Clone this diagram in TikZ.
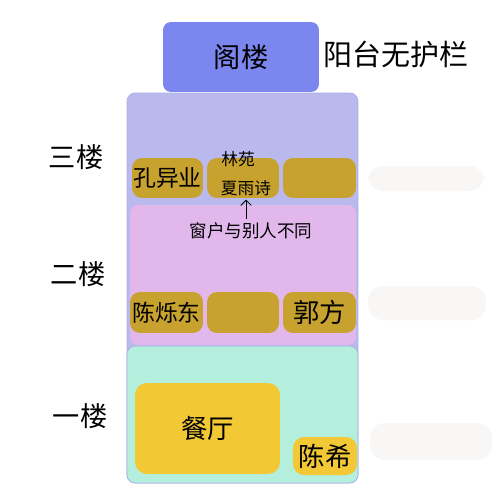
\documentclass[tikz,border=0pt]{standalone}
\usepackage{fontspec}
\usetikzlibrary{arrows.meta}
\setmainfont{Noto Sans CJK SC}
\begin{document}
\begin{tikzpicture}[x=0.02cm,y=-0.02cm,
  room/.style={rounded corners=0.16cm, inner sep=0pt, font=\fontsize{13}{13}\selectfont},
  goldbox/.style={room, fill=gold, rounded corners=0.2cm, minimum height=0.8cm},
  lbl/.style={inner sep=0pt, font=\fontsize{15.5}{15.5}\selectfont},
  small/.style={inner sep=0pt, font=\fontsize{9.5}{9.5}\selectfont},
  blob/.style={fill=blobc, rounded corners=0.3cm, draw=none}]
\definecolor{attic}{RGB}{123,134,238}
\definecolor{lav}{RGB}{185,185,238}
\definecolor{lavb}{RGB}{170,174,232}
\definecolor{pinkf}{RGB}{226,184,236}
\definecolor{mint}{RGB}{180,238,220}
\definecolor{gold}{RGB}{200,162,46}
\definecolor{yel}{RGB}{242,201,53}
\definecolor{blobc}{RGB}{249,246,246}
\useasboundingbox[fill=white] (0,0) rectangle (500,500);
% faint blurred patches
\path[blob] (368,166) rectangle (484,191);
\path[blob] (368,286) rectangle (486,320);
\path[blob] (370,423) rectangle (492,460);
% attic
\node[room, fill=attic, minimum width=3.12cm, minimum height=1.4cm, font=\fontsize{15.5}{15.5}\selectfont] (attic) at (241,57) {阁楼};
\node[lbl, font=\fontsize{16.5}{16.5}\selectfont] (balc) at (396,54) {阳台无护栏};
% floors
\node[room, fill=lav, draw=lavb, minimum width=4.62cm, minimum height=7.8cm] (f3) at (242.5,288) {};
\node[room, fill=pinkf, minimum width=4.52cm, minimum height=2.8cm] (f2) at (243,275) {};
\node[room, fill=mint, draw=lavb, minimum width=4.62cm, minimum height=2.74cm] (f1) at (242.5,414.5) {};
% floor labels
\node[lbl] (l3) at (76,157) {三楼};
\node[lbl] (l2) at (78,274) {二楼};
\node[lbl] (l1) at (80,416) {一楼};
% third floor rooms
\node[goldbox, minimum width=1.42cm] (r3a) at (167.5,178) {孔异业};
\node[goldbox, minimum width=1.44cm] (r3b) at (243,178) {};
\node[goldbox, minimum width=1.46cm] (r3c) at (319.5,178) {};
\node[small] (lin) at (238,159) {林苑};
\node[small] (xia) at (246,188) {夏雨诗};
\node[small, font=\fontsize{10}{10}\selectfont] (win) at (251,231) {窗户与别人不同};
\draw[-{Straight Barb[length=3pt]}, line width=0.5pt] ([yshift=2pt]xia.south |- win.north) -- ([yshift=-2pt]xia.south);
% second floor rooms
\node[goldbox, minimum width=1.46cm, minimum height=0.82cm] (r2a) at (166.5,312.5) {陈烁东};
\node[goldbox, minimum width=1.44cm, minimum height=0.82cm] (r2b) at (243,312.5) {};
\node[goldbox, minimum width=1.46cm, minimum height=0.82cm, font=\fontsize{15}{15}\selectfont] (r2c) at (319.5,312.5) {郭方};
% first floor rooms
\node[room, fill=yel, rounded corners=0.24cm, minimum width=2.9cm, minimum height=1.82cm, font=\fontsize{15}{15}\selectfont] (din) at (207.5,428.5) {餐厅};
\node[room, fill=yel, rounded corners=0.22cm, minimum width=1.28cm, minimum height=0.76cm, font=\fontsize{15}{15}\selectfont] (chx) at (325,456) {陈希};
\end{tikzpicture}
\end{document}
